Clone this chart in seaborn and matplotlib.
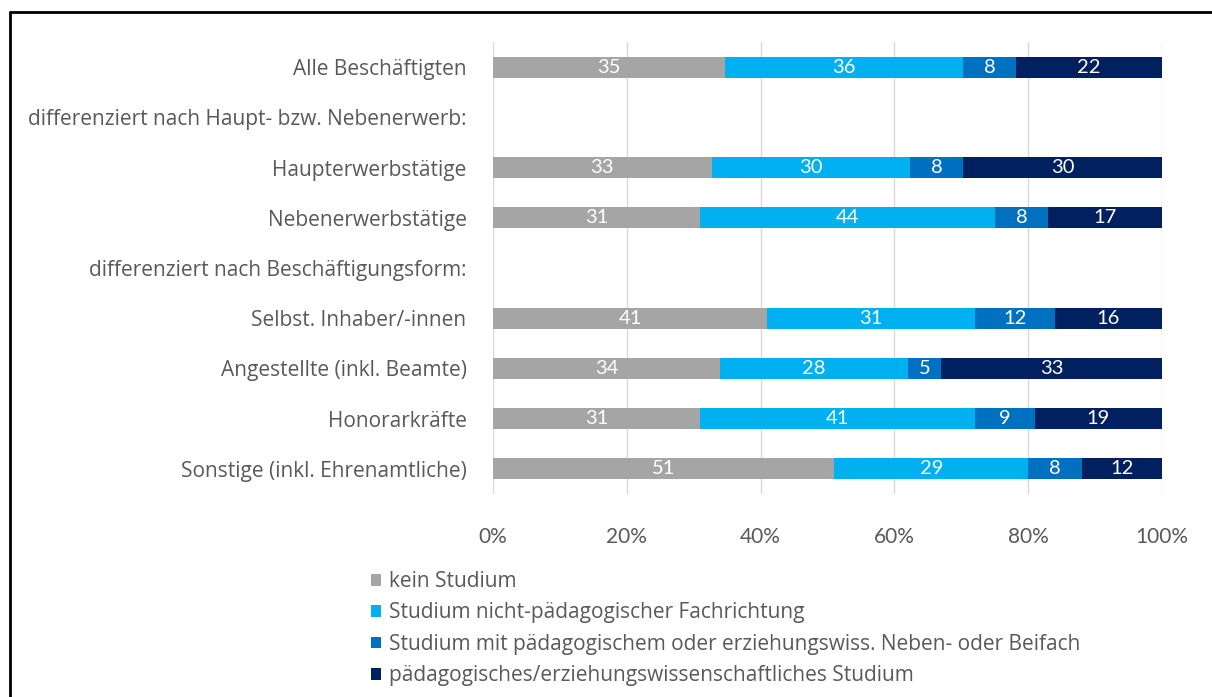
import matplotlib
matplotlib.use("Agg")
import matplotlib.pyplot as plt
import seaborn as sns
import pandas as pd
import numpy as np
from matplotlib.patches import Patch
from matplotlib.lines import Line2D

categories = [
    "Alle Beschäftigten",
    "differenziert nach Haupt- bzw. Nebenerwerb:",
    "Haupterwerbstätige",
    "Nebenerwerbstätige",
    "differenziert nach Beschäftigungsform:",
    "Selbst. Inhaber/-innen",
    "Angestellte (inkl. Beamte)",
    "Honorarkräfte",
    "Sonstige (inkl. Ehrenamtliche)",
]
series_names = [
    "kein Studium",
    "Studium nicht-pädagogischer Fachrichtung",
    "Studium mit pädagogischem oder erziehungswiss. Neben- oder Beifach",
    "pädagogisches/erziehungswissenschaftliches Studium",
]
kein_studium = [35, np.nan, 33, 31, np.nan, 41, 34, 31, 51]
nicht_paed = [36, np.nan, 30, 44, np.nan, 31, 28, 41, 29]
nebenfach = [8, np.nan, 8, 8, np.nan, 12, 5, 9, 8]
paed = [22, np.nan, 30, 17, np.nan, 16, 33, 19, 12]
colors = ["#A5A5A5", "#00B0F0", "#0070C0", "#002060"]
xticks = [0, 20, 40, 60, 80, 100]
xticklabels = ["0%", "20%", "40%", "60%", "80%", "100%"]

sns.set_style("white")
plt.rcParams["font.family"] = ["Open Sans", "DejaVu Sans"]

vals = np.array([kein_studium, nicht_paed, nebenfach, paed], dtype=float)
totals = vals.sum(axis=0)
shares = vals / totals * 100
cums = np.cumsum(shares, axis=0)

df = pd.DataFrame({"cat": categories})
for i in range(4):
    df[f"cum{i}"] = cums[i]
    df[f"share{i}"] = shares[i]
    df[f"val{i}"] = vals[i]
df = df.dropna().reset_index(drop=True)

fig = plt.figure(figsize=(12.12, 6.97), dpi=100)
ax = fig.add_axes([493 / 1212, 1 - 494 / 697, 669 / 1212, 452 / 697])

for i in [3, 2, 1, 0]:
    sns.barplot(data=df, x=f"cum{i}", y="cat", order=categories, color=colors[i],
                saturation=1, width=0.42, errorbar=None, orient="h", ax=ax,
                linewidth=0, zorder=3)

ypos = {c: k for k, c in enumerate(categories)}
num_font = ["Lato", "DejaVu Sans"]
for _, row in df.iterrows():
    y = ypos[row["cat"]]
    for i in range(4):
        center = row[f"cum{i}"] - row[f"share{i}"] / 2
        ax.text(center, y, f"{int(row[f'val{i}'])}", ha="center", va="center",
                color="white", fontsize=14.5, family=num_font, zorder=5)

ax.set_xlim(0, 100)
ax.set_ylim(8.5, -0.5)
ax.set_xticks(xticks)
ax.set_xticklabels(xticklabels, family=num_font)
ax.xaxis.grid(True, color="#D9D9D9", lw=1)
ax.set_axisbelow(True)
for s in ax.spines.values():
    s.set_visible(False)
ax.set_xlabel("")
ax.set_ylabel("")
ax.tick_params(axis="y", length=0, pad=19, labelsize=15, labelcolor="#595959")
ax.tick_params(axis="x", length=0, pad=24, labelsize=15, labelcolor="#595959")

handles = [Patch(facecolor=c, edgecolor="none") for c in colors]
fig.legend(handles, series_names, loc="upper left",
           bbox_to_anchor=(371 / 1212, 1 - 571 / 697), frameon=False,
           fontsize=15, labelcolor="#595959", handlelength=0.5, handleheight=0.5,
           handletextpad=0.35, labelspacing=0.5, borderaxespad=0, borderpad=0)

fig.add_artist(Line2D([10 / 1212, 1], [1 - 12 / 697, 1 - 12 / 697], color="black", lw=2,
                      transform=fig.transFigure))
fig.add_artist(Line2D([10 / 1212, 10 / 1212], [0, 1 - 12 / 697], color="black", lw=2,
                      transform=fig.transFigure))

fig.savefig("out.png", dpi=100, facecolor="white")
